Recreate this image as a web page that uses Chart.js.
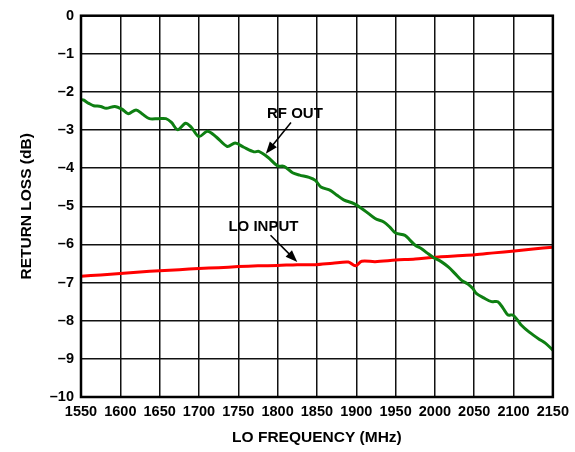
<!DOCTYPE html>
<html>
<head>
<meta charset="utf-8">
<script src="https://cdn.jsdelivr.net/npm/chart.js@4/dist/chart.umd.min.js"></script>
<style>
  html, body { margin: 0; padding: 0; background: #fff; }
  #wrap { width: 575px; height: 452px; }
</style>
</head>
<body>
<div id="wrap"><canvas id="myChart" width="575" height="452"></canvas></div>
<script>
// RF OUT return loss
var rfFreq = [1550,1553,1560,1566,1575,1582,1593,1602,1610,1620,1628,1637,1648,1658,1665,1673,1683,1690,1700,1711,1722,1736,1746,1757,1770,1776,1788,1800,1808,1819,1828,1840,1848,1855,1867,1875,1884,1897,1910,1924,1935,1943,1950,1962,1968,1975,1983,1990,1998,2008,2017,2025,2034,2042,2048,2053,2062,2072,2080,2087,2093,2099,2105,2110,2120,2133,2140,2150];
var rfLoss = [-2.20,-2.21,-2.30,-2.36,-2.38,-2.43,-2.38,-2.45,-2.57,-2.47,-2.58,-2.70,-2.70,-2.70,-2.80,-2.99,-2.82,-2.92,-3.17,-3.03,-3.18,-3.43,-3.34,-3.45,-3.57,-3.56,-3.72,-3.94,-3.95,-4.12,-4.18,-4.24,-4.32,-4.49,-4.58,-4.70,-4.83,-4.93,-5.10,-5.32,-5.41,-5.55,-5.70,-5.76,-5.88,-6.02,-6.11,-6.22,-6.34,-6.45,-6.59,-6.75,-6.94,-7.04,-7.15,-7.29,-7.40,-7.50,-7.50,-7.68,-7.85,-7.85,-7.98,-8.12,-8.30,-8.49,-8.58,-8.77];

// LO INPUT return loss
var loFreq = [1550,1575,1600,1625,1650,1675,1700,1725,1750,1775,1800,1825,1848,1870,1890,1899,1907,1924,1950,1975,1996,2025,2051,2075,2101,2125,2150];
var loLoss = [-6.83,-6.80,-6.76,-6.72,-6.69,-6.66,-6.63,-6.61,-6.58,-6.56,-6.55,-6.53,-6.53,-6.49,-6.46,-6.56,-6.44,-6.45,-6.41,-6.38,-6.34,-6.30,-6.27,-6.22,-6.17,-6.12,-6.07];

var xTicks = [1550,1600,1650,1700,1750,1800,1850,1900,1950,2000,2050,2100,2150];
var yTicks = [0,-1,-2,-3,-4,-5,-6,-7,-8,-9,-10];

// labels: text, text pos, arrow tail, arrow tip (data units)
var notes = [
  { text: "RF OUT",   tx: 1822, ty: -2.57, ax: 1817, ay: -2.80, bx: 1785, by: -3.62 },
  { text: "LO INPUT", tx: 1782, ty: -5.53, ax: 1791, ay: -5.76, bx: 1825, by: -6.46 }
];

function pts(xs, ys) {
  var out = [];
  for (var i = 0; i < xs.length; i++) { out.push({ x: xs[i], y: ys[i] }); }
  return out;
}

var fontFam = "'Liberation Sans', Arial, sans-serif";

var notePlugin = {
  id: "notes",
  afterDatasetsDraw: function(chart) {
    var ctx = chart.ctx, xs = chart.scales.x, ys = chart.scales.y;
    ctx.save();
    ctx.fillStyle = "#000";
    ctx.strokeStyle = "#000";
    ctx.font = "bold 15px " + fontFam;
    ctx.textAlign = "center";
    ctx.textBaseline = "middle";
    notes.forEach(function(n) {
      ctx.fillText(n.text, xs.getPixelForValue(n.tx), ys.getPixelForValue(n.ty));
      var x1 = xs.getPixelForValue(n.ax), y1 = ys.getPixelForValue(n.ay);
      var x2 = xs.getPixelForValue(n.bx), y2 = ys.getPixelForValue(n.by);
      var ang = Math.atan2(y2 - y1, x2 - x1);
      ctx.lineWidth = 1.5;
      ctx.beginPath();
      ctx.moveTo(x1, y1);
      ctx.lineTo(x2 - 8 * Math.cos(ang), y2 - 8 * Math.sin(ang));
      ctx.stroke();
      ctx.beginPath();
      ctx.moveTo(x2, y2);
      ctx.lineTo(x2 - 12 * Math.cos(ang) + 4.5 * Math.sin(ang), y2 - 12 * Math.sin(ang) - 4.5 * Math.cos(ang));
      ctx.lineTo(x2 - 12 * Math.cos(ang) - 4.5 * Math.sin(ang), y2 - 12 * Math.sin(ang) + 4.5 * Math.cos(ang));
      ctx.closePath();
      ctx.fill();
    });
    // frame
    var a = chart.chartArea;
    ctx.lineWidth = 2.5;
    ctx.strokeRect(a.left, a.top, a.right - a.left, a.bottom - a.top);
    ctx.restore();
  }
};

new Chart(document.getElementById("myChart"), {
  type: "line",
  data: {
    datasets: [
      { label: "RF OUT", data: pts(rfFreq, rfLoss), borderColor: "#0e7f12", borderWidth: 3, pointRadius: 0, tension: 0.3, fill: false },
      { label: "LO INPUT", data: pts(loFreq, loLoss), borderColor: "#ff0000", borderWidth: 3, pointRadius: 0, tension: 0.3, fill: false }
    ]
  },
  options: {
    responsive: false,
    animation: false,
    layout: { padding: { top: 15, right: 20, left: 0, bottom: 0 } },
    plugins: { legend: { display: false }, tooltip: { enabled: false } },
    scales: {
      x: {
        type: "linear",
        min: 1550, max: 2150,
        afterBuildTicks: function(s) { s.ticks = xTicks.map(function(v) { return { value: v }; }); },
        afterFit: function(s) { s.height = 55; },
        grid: { color: "#111", lineWidth: 1.5, drawTicks: false },
        border: { display: false },
        ticks: { padding: 6, color: "#000", font: { family: fontFam, size: 14.5, weight: "bold" }, maxRotation: 0, autoSkip: false,
                 callback: function(v) { return String(v); } },
        title: { display: true, text: "LO FREQUENCY (MHz)", color: "#000", padding: { top: 0, bottom: 5 },
                 font: { family: fontFam, size: 15.5, weight: "bold" } }
      },
      y: {
        min: -10, max: 0,
        afterBuildTicks: function(s) { s.ticks = yTicks.map(function(v) { return { value: v }; }); },
        afterFit: function(s) { s.width = 81; },
        grid: { color: "#111", lineWidth: 1.5, drawTicks: false },
        border: { display: false },
        ticks: { padding: 7, color: "#000", font: { family: fontFam, size: 14.5, weight: "bold" }, autoSkip: false,
                 callback: function(v) { return String(v).replace("-", "\u2013"); } },
        title: { display: true, text: "RETURN LOSS (dB)", color: "#000", padding: { top: 17, bottom: 0 },
                 font: { family: fontFam, size: 15.5, weight: "bold" } }
      }
    }
  },
  plugins: [notePlugin]
});
</script>
</body>
</html>
